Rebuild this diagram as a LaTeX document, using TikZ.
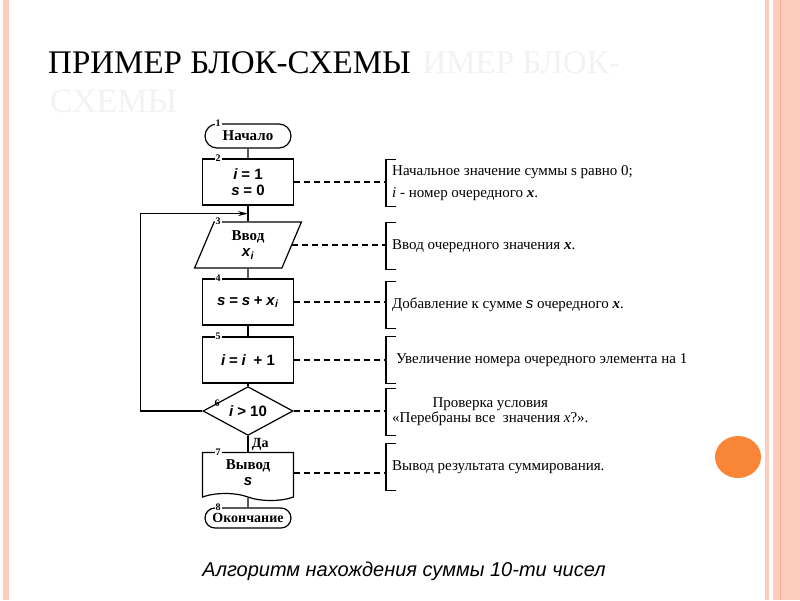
\documentclass[tikz,border=0pt]{standalone}
\usepackage{fontspec}
\setmainfont{Liberation Serif}
\setsansfont{Liberation Sans}
\usetikzlibrary{positioning,shapes.geometric,shapes.misc,shapes.symbols,arrows.meta}
\definecolor{stripe}{RGB}{252,204,188}
\definecolor{stripedark}{RGB}{244,172,146}
\definecolor{dot}{RGB}{249,134,54}
\newcommand{\vr}[1]{\textsf{\itshape #1}}
\tikzset{
	blk/.style={draw,line width=1.2pt,inner sep=2pt,align=center,font=\fontsize{15}{16}\selectfont\bfseries},
	term/.style={blk,rounded rectangle,minimum width=90pt,inner ysep=0pt},
	proc/.style={blk,rectangle,minimum width=91pt,minimum height=46pt},
	io/.style={blk,trapezium,trapezium left angle=72,trapezium right angle=108,trapezium stretches=true,minimum width=107pt,minimum height=46pt},
	test/.style={blk,diamond,minimum width=90pt,minimum height=44pt,inner sep=0pt},
	docu/.style={blk,tape,tape bend top=none,tape bend bottom=out and in,tape bend height=7pt,minimum width=91pt,minimum height=48pt},
	num/.style={fill=white,inner sep=1pt,font=\fontsize{10}{10}\selectfont\bfseries},
	note/.style={anchor=west,align=left,inner xsep=6pt,minimum height=46pt,font=\fontsize{15}{17}\selectfont},
	lead/.style={line width=1.1pt,dash pattern=on 6pt off 4pt},
}
\begin{document}
\begin{tikzpicture}[x=1pt,y=-1pt,node distance=50pt,on grid,>={Stealth[length=10pt,width=5pt]}]
	\useasboundingbox (0,0) rectangle (800,600);
	% slide frame
	\fill[stripe] (3,0) rectangle (9,600);
	\fill[stripe] (765,0) rectangle (769,600);
	\fill[stripe] (773,0) rectangle (800,600);
	\draw[stripedark] (780.5,0) -- (780.5,600);
	\fill[dot] (738,457) ellipse (23 and 21);
	% title
	\node[anchor=base east,inner sep=0pt,text=black!5,font=\fontsize{33}{33}\selectfont] (ghost1) at (620,73) {ИМЕР БЛОК-};
	\node[anchor=base west,inner sep=0pt,text=black!5,font=\fontsize{34}{34}\selectfont] (ghost2) at (50,112) {СХЕМЫ};
	\node[anchor=base west,inner sep=0pt,font=\fontsize{33}{33}\selectfont] (title) at (48,73) {ПРИМЕР БЛОК-СХЕМЫ};

	% blocks
	\node[term,minimum height=24pt] (1) at (248,136) {Начало};
	\node[proc,below=46pt of 1] (2) {\vr{i} \textsf{= 1}\\ \vr{s} \textsf{= 0}};
	\node[io,below=63pt of 2] (3) {Ввод\\ \vr{x}\textsubscript{\vr{i}}};
	\node[proc,below=57pt of 3] (4) {\vr{s} \textsf{=} \vr{s} \textsf{+} \vr{x}\textsubscript{\vr{i}}};
	\node[proc,below=58pt of 4] (5) {\vr{i} \textsf{=} \vr{i} \ \textsf{+ 1}};
	\node[test,below=51pt of 5] (6) {\vr{i} \textsf{> 10}};
	\node[docu,below=62pt of 6] (7) {Вывод\\ \vr{s}};
	\node[term,minimum height=20pt,font=\fontsize{14}{14}\selectfont\bfseries,below=45pt of 7] (8) {Окончание};
	\coordinate[below=8pt of 2.south] (j);

	\foreach \b in {1,2,3,4,5,7,8}
		\node[num] at ([xshift=-30pt]\b.north) {\b};
	\node[num,fill=none] at ([xshift=-31pt,yshift=8pt]6.center) {6};

	\path[line width=1.2pt] (1) edge (2)
		(2) edge (3)
		(3) edge (4)
		(4) edge (5)
		(5) edge (6)
		(6) edge node[right,font=\fontsize{14}{14}\selectfont\bfseries] {Да} (7)
		(7) edge (8);
	\draw[line width=1.2pt,->] (6.west) -- ++(-62,0) |- (j);

	% comments
	\node[note,font=\fontsize{15}{22}\selectfont] (t2) at (386,183) {Начальное значение суммы s равно 0;\\ \textit{i} - номер очередного \textbf{\textit{x}}.};
	\node[note] (t3) at (386,246) {Ввод очередного значения \textbf{\textit{x}}.};
	\node[note] (t4) at (386,305) {Добавление к сумме \vr{s} очередного \textbf{\textit{x}}.};
	\node[note,inner xsep=10pt] (t5) at (386,360) {Увеличение номера очередного элемента на 1};
	\node[note,align=center,font=\fontsize{15}{13}\selectfont] (t6) at (386,412) {Проверка условия\\ «Перебраны все \ значения \textit{x}?».};
	\node[note] (t7) at (386,467) {Вывод результата суммирования.};

	\foreach \b/\t in {2/t2,3/t3,4/t4,5/t5,6/t6,7/t7} {
		\draw[line width=1.2pt] ([xshift=10pt]\t.north west) -| (\t.south west) -- ++(10,0);
		\draw[lead] (\b.east) -- (\b.east -| \t.west);
	}

	\node[font=\sffamily\itshape\fontsize{20}{20}\selectfont] (caption) at (404,571) {Алгоритм нахождения суммы 10-ти чисел};
\end{tikzpicture}
\end{document}
